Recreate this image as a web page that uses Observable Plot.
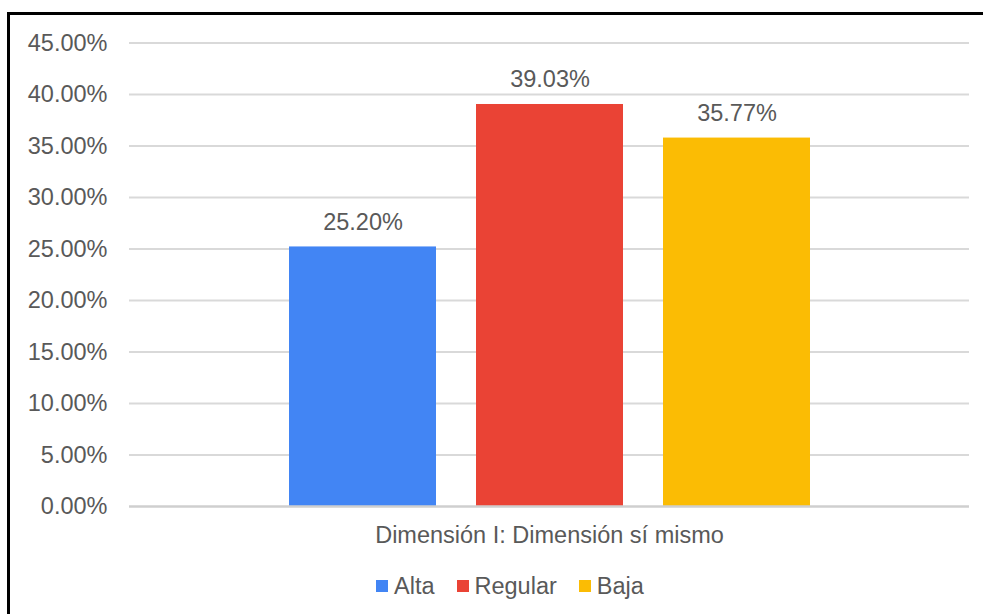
<!DOCTYPE html>
<html><head><meta charset="utf-8">
<script src="https://cdn.jsdelivr.net/npm/d3@7"></script>
<script src="https://cdn.jsdelivr.net/npm/@observablehq/plot@0.6"></script>
<style>
html,body{margin:0;padding:0;background:#fff;overflow:hidden;width:983px;height:614px}
#frame{position:absolute;left:7px;top:12px;width:976px;height:602px;border-left:3px solid #000;border-top:3px solid #000;box-sizing:border-box;pointer-events:none}
#chart{position:absolute;left:0;top:0}
#legend{position:absolute;left:376px;top:572px;height:28px;display:flex;align-items:center;font:23.5px "Liberation Sans",Arial,sans-serif;color:#595959;line-height:28px;white-space:nowrap}
.item{display:flex;align-items:center;margin-right:22px}
.sw{width:12px;height:12px;margin-right:6px;display:inline-block}
</style></head><body>
<div id="chart"></div><div id="legend"></div><div id="frame"></div>
<script>
const category = "Dimensión I: Dimensión sí mismo";
const series = ["Alta", "Regular", "Baja"];
const values = [25.20, 39.03, 35.77];
const colors = ["#4285F4", "#EA4335", "#FBBC04"];
const yTicks = [0, 5, 10, 15, 20, 25, 30, 35, 40, 45];

const data = series.map((s, i) => ({serie: s, value: values[i]}));
const fmt = d => d.toFixed(2) + "%";

const plot = Plot.plot({
  width: 983, height: 560,
  marginTop: 42.5, marginBottom: 54, marginLeft: 129, marginRight: 14,
  style: {fontFamily: '"Liberation Sans", Arial, sans-serif', fontSize: "23.5px", color: "#595959", background: "transparent", overflow: "visible"},
  x: {domain: series, range: [288.5, 809.5], paddingInner: 0.214, paddingOuter: 0, axis: null},
  y: {domain: [0, 45], ticks: 10, tickFormat: fmt, tickSize: 0, tickPadding: 22, label: null},
  color: {domain: series, range: colors},
  marks: [
    Plot.ruleY(yTicks.filter(d => d > 0), {stroke: "#d9d9d9", strokeWidth: 2}),
    Plot.barY(data, {x: "serie", y: "value", fill: "serie"}),
    Plot.ruleY([0], {stroke: "#cfcfcf", strokeWidth: 2.5}),
    Plot.text(data, {x: "serie", y: "value", text: d => fmt(d.value), lineAnchor: "bottom", dy: -17, fill: "#595959"}),
    Plot.text([category], {frameAnchor: "bottom", lineAnchor: "bottom", dy: 36, text: d => d, fill: "#595959"})
  ]
});
document.getElementById("chart").appendChild(plot);

const legend = document.getElementById("legend");
series.forEach((s, i) => {
  const item = document.createElement("div");
  item.className = "item";
  const sw = document.createElement("span");
  sw.className = "sw";
  sw.style.background = colors[i];
  const t = document.createElement("span");
  t.textContent = s;
  item.appendChild(sw); item.appendChild(t);
  legend.appendChild(item);
});
</script>
</body></html>
